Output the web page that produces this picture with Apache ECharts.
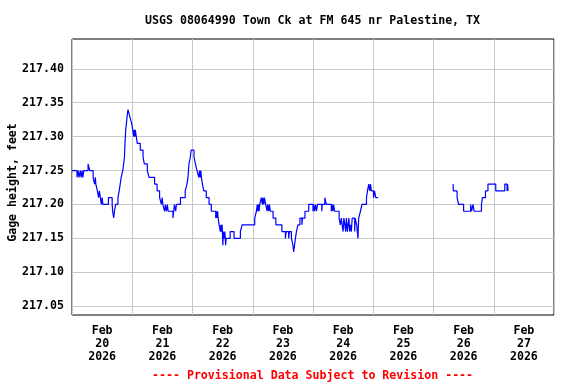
<!DOCTYPE html>
<html>
<head>
<meta charset="utf-8">
<script src="https://cdn.jsdelivr.net/npm/echarts@6/dist/echarts.min.js"></script>
<style>
html,body{margin:0;padding:0;background:#fff;}
#chart{width:576px;height:384px;}
</style>
</head>
<body>
<div id="chart"></div>
<script>
// Hours since 2026-02-20 00:00 (local), and gage height in feet
const hours = [
  0.0,2.0,2.4,2.8,3.3,3.6,4.0,4.3,4.7,6.4,7.05,8.4,9.0,9.3,9.5,10.1,10.6,10.9,11.3,11.7,12.0,12.3,14.5,16.0,16.2,16.6,16.9,17.4,18.3,18.8,19.2,19.6,20.2,20.6,20.9,21.1,21.4,21.7,21.95,22.3,23.0,23.75,24.2,24.6,24.8,25.0,25.2,25.6,26.0,27.2,28.3,28.8,30.0,30.7,32.9,33.9,34.9,35.6,35.9,36.2,36.9,37.2,37.6,38.0,38.3,40.2,40.5,40.8,41.3,41.6,43.2,45.1,45.8,46.2,46.6,47.15,47.42,48.6,49.15,49.8,50.5,50.8,51.1,51.3,51.55,51.95,52.5,53.5,54.6,55.5,57.25,57.5,57.8,58.0,58.2,58.6,59.1,59.3,59.6,59.8,60.1,60.3,60.6,60.9,61.2,61.4,63.0,64.55,67.07,67.74,72.79,73.45,73.8,74.0,74.3,74.5,74.78,75.44,75.8,76.0,76.4,76.6,77.17,77.7,77.95,78.4,78.6,79.03,80.09,81.2,83.6,85.0,85.3,86.3,86.6,87.4,88.0,88.3,89.0,89.4,90.0,90.8,91.6,91.8,92.8,94.3,96.0,96.3,96.6,97.0,97.4,97.8,99.5,99.7,100.7,101.3,103.3,103.6,103.9,104.2,104.6,106.4,106.9,107.3,107.6,108.0,108.3,108.7,109.0,109.3,109.7,110.0,110.3,110.6,110.9,111.3,111.6,112.6,112.8,113.4,113.9,114.2,114.9,115.5,117.3,117.7,118.2,118.6,118.9,119.25,120.1,120.5,121.0,121.9,122.0,
  151.8,151.9,153.4,154.0,156.0,158.8,159.2,159.75,160.2,163.1,163.5,164.7,165.7,168.8,172.4,173.3,173.5,173.7
];
const gage = [
  217.25,217.24,217.25,217.24,217.25,217.24,217.25,217.24,217.25,217.26,217.25,217.24,217.23,217.24,217.23,217.22,217.21,217.22,217.21,217.20,217.21,217.20,217.21,217.20,217.19,217.18,217.19,217.20,217.21,217.22,217.23,217.24,217.25,217.26,217.27,217.29,217.31,217.32,217.33,217.34,217.33,217.32,217.31,217.30,217.31,217.30,217.31,217.30,217.29,217.28,217.27,217.26,217.25,217.24,217.23,217.22,217.21,217.20,217.21,217.20,217.19,217.20,217.19,217.20,217.19,217.18,217.19,217.20,217.19,217.20,217.21,217.22,217.23,217.24,217.26,217.27,217.28,217.27,217.26,217.25,217.24,217.25,217.24,217.25,217.24,217.23,217.22,217.21,217.20,217.19,217.18,217.19,217.18,217.19,217.18,217.17,217.16,217.17,217.16,217.17,217.14,217.16,217.15,217.16,217.14,217.15,217.16,217.15,217.16,217.17,217.18,217.19,217.20,217.19,217.20,217.19,217.20,217.21,217.20,217.21,217.20,217.21,217.20,217.19,217.20,217.19,217.20,217.19,217.18,217.17,217.16,217.15,217.16,217.15,217.16,217.15,217.14,217.13,217.15,217.16,217.17,217.18,217.17,217.18,217.19,217.20,217.19,217.20,217.19,217.20,217.19,217.20,217.19,217.20,217.21,217.20,217.19,217.20,217.19,217.20,217.19,217.18,217.17,217.18,217.17,217.16,217.18,217.17,217.16,217.18,217.16,217.17,217.18,217.16,217.17,217.16,217.18,217.16,217.18,217.17,217.15,217.18,217.19,217.20,217.21,217.22,217.23,217.22,217.23,217.22,217.21,217.22,217.21,217.21,null,
  217.23,217.22,217.21,217.20,217.19,217.20,217.19,217.20,217.19,217.20,217.21,217.22,217.23,217.22,217.23,217.22,217.23,217.22
];
const yTicks = [217.05, 217.10, 217.15, 217.20, 217.25, 217.30, 217.35, 217.40];
const xLabelHours = [12, 36, 60, 84, 108, 132, 156, 180];
const xTickLabels = ['Feb\n20\n2026','Feb\n21\n2026','Feb\n22\n2026','Feb\n23\n2026','Feb\n24\n2026','Feb\n25\n2026','Feb\n26\n2026','Feb\n27\n2026'];
const titleText = 'USGS 08064990 Town Ck at FM 645 nr Palestine, TX';
const footerText = '---- Provisional Data Subject to Revision ----';
const yName = 'Gage height, feet';

const FONT = '"DejaVu Sans Mono", monospace';
const FS = 11.6;
const chart = echarts.init(document.getElementById('chart'), null, {renderer: 'canvas'});
chart.setOption({
  animation: false,
  backgroundColor: '#fff',
  title: [
    {text: titleText, left: 145, top: 15, padding: 0,
     textStyle: {fontFamily: FONT, fontSize: FS, fontWeight: 'bold', color: '#000'}},
    {text: footerText, left: 152, top: 370, padding: 0,
     textStyle: {fontFamily: FONT, fontSize: FS, fontWeight: 'bold', color: '#ff0000'}}
  ],
  grid: {left: 72, top: 39, width: 482, height: 276, show: true,
         borderColor: '#000', borderWidth: 1, backgroundColor: '#fff',
         containLabel: false, outerBoundsMode: 'none'},
  xAxis: {
    type: 'value', min: 0, max: 192, interval: 24,
    axisLine: {show: false}, axisTick: {show: false},
    splitLine: {show: true, lineStyle: {color: '#c8c8c8', width: 1}},
    axisLabel: {
      customValues: xLabelHours,
      formatter: v => xTickLabels[xLabelHours.indexOf(v)] || '',
      fontFamily: FONT, fontSize: FS, fontWeight: 'bold', color: '#000',
      lineHeight: 13, margin: 9, align: 'center'
    }
  },
  yAxis: {
    type: 'value', min: 217.037, max: 217.444,
    name: yName, nameLocation: 'middle', nameRotate: 90, nameGap: 53,
    nameMoveOverlap: false,
    nameTextStyle: {fontFamily: FONT, fontSize: FS, fontWeight: 'bold', color: '#000', padding: [0, 11, 0, 0]},
    axisLine: {show: false},
    axisTick: {show: false, customValues: yTicks},
    splitLine: {show: true, lineStyle: {color: '#c8c8c8', width: 1}},
    axisLabel: {
      customValues: yTicks,
      formatter: v => v.toFixed(2),
      fontFamily: FONT, fontSize: FS, fontWeight: 'bold', color: '#000', margin: 8
    }
  },
  series: [{
    type: 'line', step: 'end', showSymbol: false, symbol: 'none',
    connectNulls: false,
    lineStyle: {color: '#0000ff', width: 1.2},
    data: hours.map((h, i) => [h, gage[i]])
  }]
});
</script>
</body>
</html>
